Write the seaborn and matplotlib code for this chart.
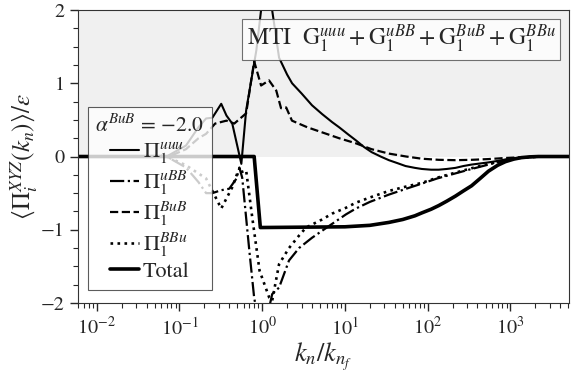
import numpy as np
import pandas as pd
import matplotlib
matplotlib.use("Agg")
import matplotlib.pyplot as plt
import matplotlib.ticker as mticker
import seaborn as sns

# curve values (k_n / k_nf, <Pi>/eps)
k_uuu = [0.006, 0.07, 0.12, 0.17, 0.21, 0.25, 0.32, 0.37, 0.435, 0.56, 0.64, 0.85, 0.97,
         1.13, 1.3, 1.6, 2.0, 2.3, 3.0, 4.0, 5.3, 7.0, 8.5, 11, 13.6, 17, 21, 27, 34, 43,
         54, 70, 85, 110, 136, 170, 217, 270, 339, 430, 543, 700, 870, 1100, 1360, 1700,
         2180, 5100]
pi_uuu = [0.0, 0.0, 0.15, 0.4, 0.52, 0.53, 0.72, 0.56, 0.45, -0.1, 0.63, 1.45, 2.0,
          2.6, 2.05, 1.35, 1.12, 1.0, 0.86, 0.70, 0.58, 0.47, 0.40, 0.30, 0.22, 0.13, 0.06,
          0.0, -0.05, -0.09, -0.13, -0.155, -0.17, -0.18, -0.18, -0.17, -0.155, -0.13, -0.11,
          -0.095, -0.08, -0.06, -0.04, -0.025, -0.013, -0.005, 0.0, 0.0]

k_uBB = [0.006, 0.07, 0.12, 0.17, 0.21, 0.25, 0.32, 0.4, 0.49, 0.53, 0.574, 0.70, 0.80,
         1.0, 1.32, 1.6, 2.11, 2.79, 4.0, 6.4, 10.3, 13.6, 20, 34, 55, 85, 130, 217, 340,
         543, 870, 1360, 2500, 5100]
pi_uBB = [0.0, 0.0, -0.15, -0.35, -0.5, -0.5, -0.46, -0.44, -0.3, -0.15, -0.29, -1.29, -1.93,
          -2.5, -1.88, -1.79, -1.42, -1.25, -1.11, -0.95, -0.79, -0.71, -0.62, -0.52, -0.44,
          -0.37, -0.30, -0.23, -0.17, -0.11, -0.05, -0.015, 0.0, 0.0]

k_BuB = [0.006, 0.075, 0.12, 0.17, 0.21, 0.27, 0.37, 0.46, 0.64, 0.80, 0.97, 1.21, 1.48,
         1.69, 1.95, 2.29, 3.5, 5.3, 8.5, 13.6, 21, 34, 55, 85, 136, 217, 340, 543, 870,
         1360, 2500, 5100]
pi_BuB = [0.0, 0.0, 0.1, 0.25, 0.31, 0.45, 0.49, 0.45, 0.59, 1.3, 0.97, 1.04, 0.9,
          0.66, 0.67, 0.49, 0.40, 0.33, 0.25, 0.18, 0.10, 0.04, 0.0, -0.03, -0.045, -0.05,
          -0.045, -0.035, -0.02, -0.01, 0.0, 0.0]

k_BBu = [0.006, 0.07, 0.12, 0.21, 0.32, 0.435, 0.50, 0.64, 0.76, 0.93, 1.22, 1.32, 1.6,
         2.11, 2.79, 3.39, 5.3, 7.0, 10.3, 13.6, 20, 34, 55, 85, 130, 217, 340, 543, 870,
         1360, 2500, 5100]
pi_BBu = [0.0, 0.0, -0.12, -0.3, -0.71, -0.42, -0.23, -0.19, -0.84, -1.56, -1.93, -1.97, -1.47,
          -1.25, -1.08, -0.97, -0.86, -0.78, -0.70, -0.63, -0.56, -0.47, -0.41, -0.36, -0.29,
          -0.22, -0.16, -0.10, -0.05, -0.015, 0.0, 0.0]

k_tot = [0.006, 0.80, 0.95, 10, 20, 34, 50, 70, 85, 110, 136, 170, 217, 270, 339, 430,
         543, 700, 870, 1100, 1360, 1700, 2180, 5100]
pi_tot = [0.0, 0.0, -0.97, -0.96, -0.94, -0.90, -0.86, -0.81, -0.77, -0.72, -0.67, -0.61,
          -0.54, -0.47, -0.40, -0.30, -0.20, -0.12, -0.07, -0.035, -0.015, -0.005, 0.0, 0.0]

labels = [r"$\Pi_1^{uuu}$", r"$\Pi_1^{uBB}$", r"$\Pi_1^{BuB}$", r"$\Pi_1^{BBu}$", "Total"]

sns.set_style("ticks")
plt.rcParams["font.family"] = ["STIXGeneral", "DejaVu Serif"]
plt.rcParams["mathtext.fontset"] = "stix"
plt.rcParams["font.size"] = 14

fig = plt.figure(figsize=(5.8, 3.74), dpi=100)
ax = fig.add_axes([0.134, 0.19, 0.847, 0.783])

ax.axhspan(0, 2, color="0.94", lw=0, zorder=0)

curves = [
    (k_uuu, pi_uuu, "-", 1.5),
    (k_uBB, pi_uBB, "-.", 1.6),
    (k_BuB, pi_BuB, "--", 1.6),
    (k_BBu, pi_BBu, ":", 1.9),
    (k_tot, pi_tot, "-", 2.6),
]
for (kk, vv, ls, lw), lab in zip(curves, labels):
    sns.lineplot(x=kk, y=vv, ax=ax, color="k", linestyle=ls, lw=lw,
                 estimator=None, sort=False, label=lab)

ax.set_xscale("log")
ax.set_xlim(0.0059, 5100)
ax.set_ylim(-2, 2)
ax.set_yticks([-2, -1, 0, 1, 2])
ax.yaxis.set_minor_locator(mticker.MultipleLocator(0.25))
ax.xaxis.set_minor_locator(mticker.LogLocator(base=10, subs=np.arange(2, 10), numticks=20))
ax.tick_params(which="major", direction="out", length=6, width=1, labelsize=14.5)
ax.tick_params(which="minor", direction="out", length=3.5, width=0.8)
for sp in ax.spines.values():
    sp.set_color("0.2")

ax.set_xlabel(r"$k_n/k_{n_f}$", fontsize=19, labelpad=2)
ax.set_ylabel(r"$\langle \Pi_i^{XYZ}(k_n)\rangle/\varepsilon$", fontsize=18, labelpad=0)

leg = ax.legend(loc="lower left", bbox_to_anchor=(0.02, 0.044), borderaxespad=0,
                title=r"$\alpha^{BuB}$ = −2.0",
                fontsize=16, title_fontsize=15.5, handlelength=1.3, handletextpad=0.2,
                labelspacing=0.12, borderpad=0.35, fancybox=False, framealpha=0.8,
                edgecolor="0.2")
leg.get_frame().set_linewidth(0.8)

ax.text(0.973, 0.955,
        r"MTI  $\mathrm{G}_1^{uuu}+\mathrm{G}_1^{uBB}+\mathrm{G}_1^{BuB}+\mathrm{G}_1^{BBu}$",
        transform=ax.transAxes, ha="right", va="top", fontsize=17,
        bbox=dict(boxstyle="square,pad=0.2", fc="white", ec="0.3", alpha=0.8, lw=0.8))

fig.savefig("out.png", dpi=100)
